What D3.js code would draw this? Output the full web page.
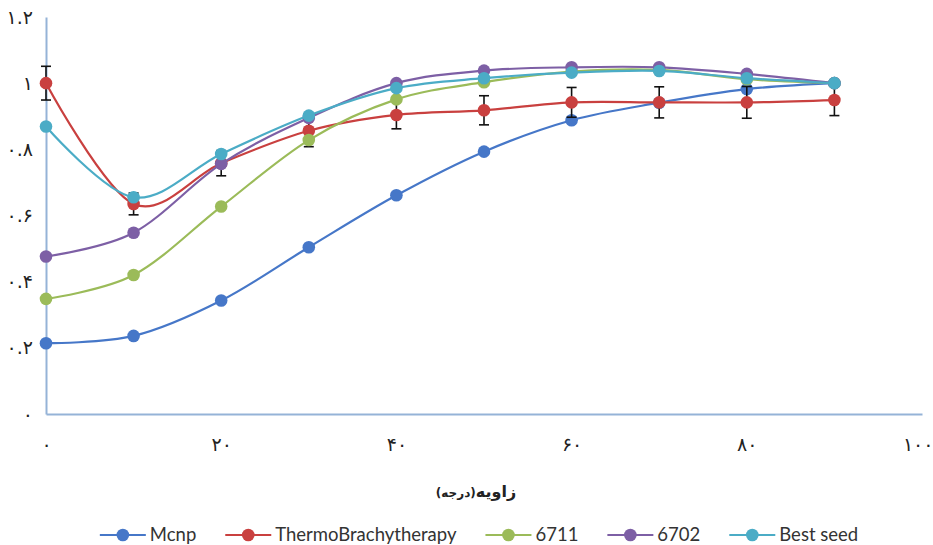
<!DOCTYPE html>
<html><head><meta charset="utf-8">
<script src="https://cdn.jsdelivr.net/npm/d3@7"></script>
<style>body{margin:0;background:#fff} svg{display:block}</style>
</head><body><svg id="c" width="933" height="545"></svg>
<script>
const angles = [0, 10, 20, 30, 40, 50, 60, 70, 80, 90];
const mcnp   = [0.214, 0.236, 0.343, 0.504, 0.661, 0.793, 0.888, 0.941, 0.982, 1.0];
const thermo = [1.0, 0.635, 0.758, 0.856, 0.904, 0.918, 0.942, 0.942, 0.942, 0.949];
const thermoErr = [0.051, 0.033, 0.038, 0.048, 0.042, 0.044, 0.045, 0.047, 0.048, 0.047];
const s6711  = [0.348, 0.42, 0.627, 0.828, 0.951, 1.003, 1.035, 1.04, 1.012, 1.0];
const s6702  = [0.476, 0.548, 0.756, 0.895, 1.0, 1.038, 1.048, 1.048, 1.028, 1.0];
const bestSeed = [0.869, 0.655, 0.786, 0.902, 0.985, 1.015, 1.032, 1.037, 1.015, 1.0];

const seriesNames  = ["Mcnp", "ThermoBrachytherapy", "6711", "6702", "Best seed"];
const seriesValues = [mcnp, thermo, s6711, s6702, bestSeed];
const seriesColors = ["#4677c8", "#c9403f", "#9bbb59", "#7d5fa5", "#4bacc6"];

const xTicks = [0, 20, 40, 60, 80, 100];
const xTickLabels = ["۰", "۲۰", "۴۰", "۶۰", "۸۰", "۱۰۰"];
const yTicks = [0, 0.2, 0.4, 0.6, 0.8, 1, 1.2];
const yTickLabels = ["۰", "۰.۲", "۰.۴", "۰.۶", "۰.۸", "۱", "۱.۲"];
const xTitleMain = "زاویه";
const xTitleUnit = "(درجه)";

const svg = d3.select("#c");
const x = d3.scaleLinear().domain([0, 100]).range([46, 922]);
const y = d3.scaleLinear().domain([0, 1.2]).range([414, 17]);
const axisColor = "#95b3d7";
const tickFont = "DejaVu Sans, sans-serif";

// axes
const gx = svg.append("g").attr("transform", `translate(0,${y(0)})`)
  .call(d3.axisBottom(x).tickValues(xTicks).tickSize(0).tickPadding(30)
    .tickFormat((d, i) => xTickLabels[i]));
const gy = svg.append("g").attr("transform", `translate(${x(0)},0)`)
  .call(d3.axisLeft(y).tickValues(yTicks).tickSize(0).tickPadding(13)
    .tickFormat((d, i) => yTickLabels[i]));
[gx, gy].forEach(g => {
  g.select(".domain").attr("stroke", axisColor).attr("stroke-width", 2);
  g.selectAll("text").attr("font-family", tickFont).attr("font-size", 19).attr("fill", "#222");
});
gx.selectAll("text").attr("dy", "0.35em");
// keep the last x label inside the window
gx.selectAll(".tick").filter(d => d === 100).select("text").attr("text-anchor", "end").attr("x", 11);

// series lines
const line = d3.line().x((d, i) => x(angles[i])).y(d => y(d)).curve(d3.curveCatmullRom.alpha(0));

seriesValues.forEach((vals, si) => {
  const g = svg.append("g");
  g.append("path").datum(vals).attr("d", line).attr("fill", "none")
    .attr("stroke", seriesColors[si]).attr("stroke-width", 2.2);
  if (si === 1) {
    const eb = g.append("g").attr("stroke", "#111").attr("stroke-width", 1.6);
    vals.forEach((v, i) => {
      const cx = x(angles[i]), t = y(v + thermoErr[i]), b = y(v - thermoErr[i]);
      eb.append("line").attr("x1", cx).attr("x2", cx).attr("y1", t).attr("y2", b);
      eb.append("line").attr("x1", cx - 5).attr("x2", cx + 5).attr("y1", t).attr("y2", t);
      eb.append("line").attr("x1", cx - 5).attr("x2", cx + 5).attr("y1", b).attr("y2", b);
    });
  }
  g.selectAll("circle").data(vals).enter().append("circle")
    .attr("cx", (d, i) => x(angles[i])).attr("cy", d => y(d)).attr("r", 6.3)
    .attr("fill", seriesColors[si]);
});

// x title
const title = svg.append("text").attr("x", 476).attr("y", 497)
  .attr("text-anchor", "middle").attr("direction", "rtl")
  .attr("font-family", tickFont).attr("font-weight", "bold").attr("fill", "#222");
title.append("tspan").attr("font-size", 16).text(xTitleMain);
title.append("tspan").attr("font-size", 12).text(xTitleUnit);

// legend
const leg = svg.append("g");
const legY = 535;
let cursor = 0;
seriesNames.forEach((name, i) => {
  const it = leg.append("g");
  it.append("line").attr("x1", 0).attr("x2", 46).attr("y1", 0).attr("y2", 0)
    .attr("stroke", seriesColors[i]).attr("stroke-width", 2.2);
  it.append("circle").attr("cx", 23).attr("cy", 0).attr("r", 6.3).attr("fill", seriesColors[i]);
  const t = it.append("text").attr("x", 50).attr("y", 0).attr("dy", "0.35em")
    .attr("font-family", "Lato, sans-serif").attr("font-size", 18.5).attr("fill", "#333").text(name);
  const w = t.node().getComputedTextLength();
  it.attr("transform", `translate(${cursor},${legY})`);
  cursor += 50 + w + 29;
});
const total = cursor - 29;
leg.attr("transform", `translate(${479 - total / 2},0)`);
</script></body></html>
